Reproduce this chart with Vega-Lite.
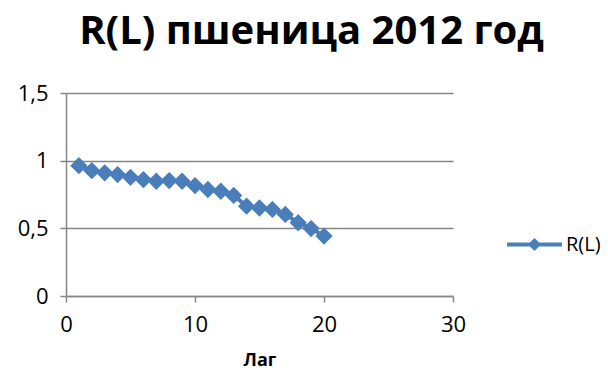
{
  "$schema": "https://vega.github.io/schema/vega-lite/v6.json",
  "width": 387,
  "height": 203,
  "autosize": {"type": "none"},
  "padding": {"left": 66, "top": 93, "right": 155, "bottom": 87},
  "background": "white",
  "title": {
    "text": "R(L) пшеница 2012 год",
    "font": "Open Sans",
    "fontSize": 40,
    "fontWeight": "bold",
    "color": "#000000",
    "anchor": "middle",
    "baseline": "bottom",
    "offset": -10,
    "dx": 52
  },
  "config": {
    "view": {"stroke": null},
    "font": "Open Sans"
  },
  "data": {
    "values": [
      {"lag": 1, "r": 0.963, "series": "R(L)"},
      {"lag": 2, "r": 0.926, "series": "R(L)"},
      {"lag": 3, "r": 0.910, "series": "R(L)"},
      {"lag": 4, "r": 0.897, "series": "R(L)"},
      {"lag": 5, "r": 0.877, "series": "R(L)"},
      {"lag": 6, "r": 0.860, "series": "R(L)"},
      {"lag": 7, "r": 0.848, "series": "R(L)"},
      {"lag": 8, "r": 0.853, "series": "R(L)"},
      {"lag": 9, "r": 0.848, "series": "R(L)"},
      {"lag": 10, "r": 0.816, "series": "R(L)"},
      {"lag": 11, "r": 0.787, "series": "R(L)"},
      {"lag": 12, "r": 0.774, "series": "R(L)"},
      {"lag": 13, "r": 0.743, "series": "R(L)"},
      {"lag": 14, "r": 0.664, "series": "R(L)"},
      {"lag": 15, "r": 0.650, "series": "R(L)"},
      {"lag": 16, "r": 0.640, "series": "R(L)"},
      {"lag": 17, "r": 0.603, "series": "R(L)"},
      {"lag": 18, "r": 0.542, "series": "R(L)"},
      {"lag": 19, "r": 0.498, "series": "R(L)"},
      {"lag": 20, "r": 0.443, "series": "R(L)"}
    ]
  },
  "mark": {
    "type": "line",
    "strokeWidth": 4,
    "point": {"shape": "diamond", "size": 300, "filled": true, "opacity": 1}
  },
  "encoding": {
    "x": {
      "field": "lag",
      "type": "quantitative",
      "scale": {"domain": [0, 30], "nice": false, "zero": true},
      "axis": {
        "values": [0, 10, 20, 30],
        "title": "Лаг",
        "titleFont": "Open Sans",
        "titleFontSize": 18,
        "titleFontWeight": "bold",
        "titleColor": "#000000",
        "titlePadding": 16,
        "labelFont": "Open Sans",
        "labelFontSize": 22,
        "labelColor": "#000000",
        "labelPadding": 12,
        "labelFlush": false,
        "grid": false,
        "domainColor": "#868686",
        "domainWidth": 1.5,
        "tickColor": "#868686",
        "tickWidth": 1.5,
        "tickSize": 6
      }
    },
    "y": {
      "field": "r",
      "type": "quantitative",
      "scale": {"domain": [0, 1.5], "nice": false},
      "axis": {
        "values": [0, 0.5, 1, 1.5],
        "title": null,
        "labelExpr": "replace(format(datum.value, '.1~f'), '.', ',')",
        "labelFont": "Open Sans",
        "labelFontSize": 22,
        "labelColor": "#000000",
        "labelPadding": 12,
        "labelFlush": false,
        "grid": true,
        "gridColor": "#868686",
        "gridWidth": 1.5,
        "domainColor": "#868686",
        "domainWidth": 1.5,
        "tickColor": "#868686",
        "tickWidth": 1.5,
        "tickSize": 6
      }
    },
    "color": {
      "field": "series",
      "type": "nominal",
      "scale": {"range": ["#4A7EBB"]},
      "legend": {
        "title": null,
        "orient": "none",
        "legendX": 450,
        "legendY": 133,
        "symbolType": "M-1.5,-0.11 L1.5,-0.11 L1.5,0.11 L-1.5,0.11 Z M0,-0.36 L0.36,0 L0,0.36 L-0.36,0 Z",
        "symbolSize": 1340,
        "symbolFillColor": "#4A7EBB",
        "symbolStrokeWidth": 0,
        "labelFont": "Open Sans",
        "labelFontSize": 20,
        "labelColor": "#000000",
        "labelOffset": 13
      }
    }
  }
}
